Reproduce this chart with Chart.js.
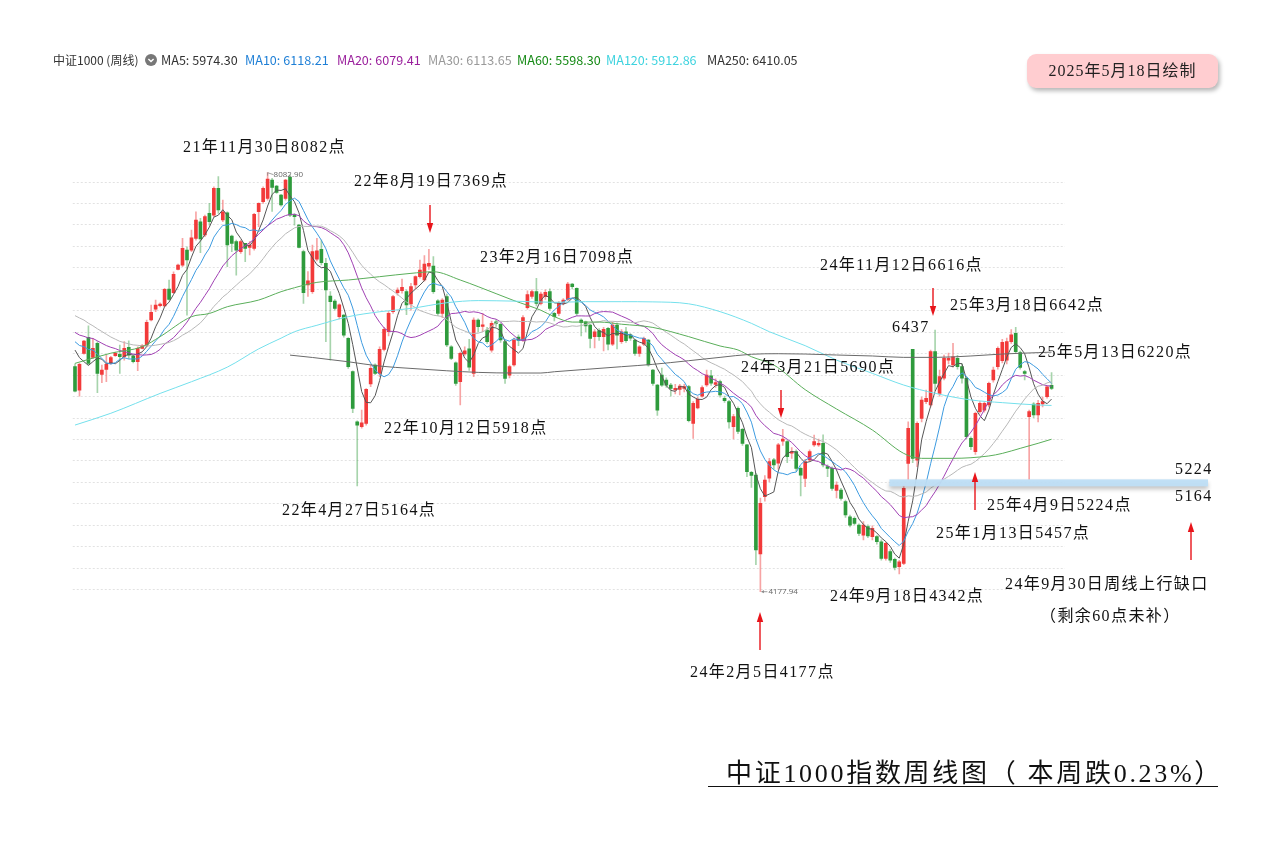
<!DOCTYPE html>
<html>
<head>
<meta charset="utf-8">
<script src="https://cdn.jsdelivr.net/npm/chart.js@4.4.1/dist/chart.umd.min.js"></script>
<style>
  html, body { margin: 0; padding: 0; background: #ffffff; width: 1273px; height: 844px; overflow: hidden; }
  #wrap { position: absolute; left: 0; top: 0; width: 1273px; height: 844px; }
  .lg { position: absolute; top: 51px; font: 12.6px "Noto Sans CJK SC", "Open Sans", sans-serif; white-space: nowrap; line-height: 18px; }
  #icon { position: absolute; left: 145px; top: 54px; width: 12px; height: 12px; }
  #stamp { position: absolute; left: 1027px; top: 54px; width: 191px; height: 34px; background: #ffcdd0; border-radius: 9px;
           box-shadow: 2px 3px 4px rgba(0,0,0,0.28); font: 16px "Liberation Serif", "Noto Sans CJK SC", serif; color: #222;
           text-align: center; line-height: 34px; letter-spacing: 1px; }
  #title { position: absolute; left: 726px; top: 752px; font: 26px "Liberation Serif", "Noto Sans CJK SC", serif; color: #111;
           letter-spacing: 2.7px; white-space: nowrap; }
  #uline { position: absolute; left: 708px; top: 786px; width: 510px; height: 0; border-top: 1.6px solid #111; }
</style>
</head>
<body>
<div id="wrap"><canvas id="c"></canvas></div>
<div class="lg" style="left:53px;color:#333;font-size:12px">中证1000 (周线)</div>
<svg id="icon" viewBox="0 0 12 12"><circle cx="6" cy="6" r="6" fill="#777"/><path d="M3.4 4.9 L6 7.5 L8.6 4.9" stroke="#fff" stroke-width="1.4" fill="none"/></svg>
<div id="legendRow"></div>
<div id="stamp">2025年5月18日绘制</div>
<div id="title">中证1000指数周线图（ 本周跌0.23%）</div>
<div id="uline"></div>
<script>
// ---------------- DATA (weekly candles, week index 0 = first visible week, Feb 2021) ----------------
const openP = [
  6274,6056,6398,6547,6361,6491,6202,6249,6305,6376,
  6389,6367,6454,6373,6320,6445,6476,6709,6810,6843,
  6840,6998,6963,7181,7221,7361,7361,7470,7625,7501,
  7703,7687,7936,7641,7709,7492,7439,7346,7423,7385,
  7377,7718,7812,7843,8014,7958,7874,7843,8038,7690,
  7594,7346,7035,6973,7275,7368,7237,6933,6886,6740,
  6756,6538,6228,5761,5715,5746,6113,6290,6212,6436,
  6600,6787,6964,6983,6973,6858,7035,7113,7082,7212,
  7212,6889,6771,6927,6460,6311,6134,6392,6440,6212,
  6709,6650,6616,6429,6693,6670,6507,6196,6290,6550,
  6523,6825,6930,6973,6864,6926,6973,6771,6771,6864,
  6902,7045,7004,6709,6693,6662,6554,6610,6554,6631,
  6485,6662,6507,6600,6570,6523,6398,6485,6523,6243,
  6103,6196,6150,6103,6057,6063,6072,6088,5746,5890,
  6000,6104,6190,6110,6135,5980,5950,5715,5886,5690,
  5545,5290,5265,4529,5063,5234,5405,5374,5580,5575,
  5467,5482,5327,5233,5405,5544,5544,5560,5342,5327,
  5120,5124,5016,4876,4861,4798,4705,4783,4690,4690,
  4643,4488,4550,4478,4410,4441,5373,6436,5404,5793,
  5948,5917,6414,6026,6166,6336,6290,6352,6274,6166,
  5606,5482,5855,5870,5917,6150,6274,6330,6336,6507,
  6585,6405,6228,5808,5926,5824,5926,5995,6100
];
const highP = [
  6300,6305,6520,6656,6538,6507,6289,6382,6370,6410,
  6476,6507,6515,6380,6460,6480,6709,6848,6895,6870,
  7004,7082,7159,7230,7470,7392,7548,7718,7656,7687,
  7796,7951,8045,7827,7718,7501,7454,7454,7423,7439,
  7703,7802,7951,8082,8030,7965,7880,8020,8060,7700,
  7600,7361,7160,7408,7470,7455,7284,6973,6900,6860,
  6760,6545,6235,5770,5870,6070,6290,6300,6460,6640,
  6790,6940,7010,7090,6990,7050,7120,7268,7310,7369,
  7300,6900,6910,6950,6470,6320,6410,6460,6530,6730,
  6720,6771,6640,6700,6710,6680,6520,6290,6540,6570,
  6750,6980,6990,7098,6970,6990,7000,6780,6880,6910,
  7060,7050,7010,6720,6700,6670,6620,6630,6640,6640,
  6690,6680,6620,6640,6580,6530,6470,6550,6530,6250,
  6110,6260,6170,6120,6110,6110,6110,6100,5950,5990,
  6095,6243,6240,6160,6150,6000,5960,5830,5900,5700,
  5550,5300,5280,5050,5260,5420,5420,5560,5690,5590,
  5520,5500,5340,5410,5500,5637,5600,5640,5360,5340,
  5200,5140,5030,4890,4875,4810,4830,4800,4790,4700,
  4660,4640,4570,4490,4470,5164,5760,6437,5760,5990,
  6057,6430,6616,6243,6383,6400,6492,6380,6300,6180,
  5620,5850,5950,5950,6130,6270,6460,6530,6540,6620,
  6642,6420,6240,5870,5940,5960,5990,6090,6220
];
const lowP = [
  6040,6000,6390,6290,6350,6031,6125,6134,6300,6370,
  6212,6336,6350,6310,6236,6440,6460,6700,6786,6830,
  6833,6895,6957,7175,7206,6755,7346,7454,7336,7485,
  7594,7672,7703,7625,7206,7346,7128,7330,7252,7315,
  7361,7579,7796,7827,7720,7890,7770,7827,7672,7594,
  7380,6864,6930,6958,7260,7222,6507,6336,6800,6720,
  6550,6258,5845,5164,5700,5730,6088,6200,6180,6420,
  6560,6770,6940,6960,6760,6800,7000,7100,7070,7180,
  6958,6750,6730,6460,6340,6100,5918,6380,6240,6180,
  6600,6600,6490,6410,6650,6500,6119,6170,6280,6470,
  6510,6810,6910,6840,6850,6900,6800,6700,6750,6850,
  6890,7000,6750,6560,6600,6450,6450,6520,6420,6430,
  6470,6440,6490,6500,6520,6380,6370,6470,6280,6100,
  5820,6090,6080,6000,6020,6010,6040,5760,5606,5880,
  5990,6090,6100,6080,5990,5940,5700,5600,5650,5540,
  5250,5150,4430,4177,5020,5200,5320,5320,5540,5380,
  5420,5300,5070,5155,5390,5530,5530,5340,5250,5120,
  5050,5030,4870,4780,4800,4700,4659,4680,4660,4620,
  4470,4470,4450,4380,4342,4430,5224,5380,5342,5760,
  5930,5900,6050,6000,6150,6300,6270,6250,6120,5600,
  5500,5457,5840,5850,5900,6130,6250,6310,6300,6490,
  6400,6250,6150,5224,5800,5760,5900,5980,6060
];
const closeP = [
  6047,6296,6513,6305,6445,6212,6243,6296,6358,6398,
  6367,6445,6382,6320,6445,6470,6687,6780,6848,6858,
  6995,6901,7134,7221,7377,7268,7476,7641,7464,7672,
  7625,7936,7734,7718,7408,7423,7361,7439,7377,7408,
  7694,7796,7936,8023,7945,7899,7781,8014,7687,7672,
  7386,6963,7075,7346,7355,7244,6989,6880,6818,6850,
  6569,6274,5886,5730,5752,6063,6259,6212,6436,6622,
  6771,6927,6989,7014,6849,7020,7113,7175,7231,7237,
  6973,6771,6896,6476,6352,6119,6398,6423,6270,6709,
  6647,6665,6507,6678,6678,6523,6165,6274,6523,6520,
  6731,6945,6975,6864,6951,6967,6818,6740,6864,6895,
  7045,7020,6771,6684,6653,6538,6600,6554,6622,6485,
  6662,6569,6600,6516,6540,6398,6460,6538,6290,6119,
  5870,6103,6103,6072,6072,6094,6088,5771,5932,5970,
  6080,6197,6120,6125,6011,5958,5760,5810,5670,5560,
  5296,5260,4566,5001,5218,5389,5358,5545,5600,5435,
  5482,5327,5264,5389,5482,5575,5560,5358,5327,5140,
  5171,5047,4892,4798,4814,4720,4798,4696,4767,4643,
  4488,4628,4472,4404,4456,5140,5699,5420,5746,5964,
  5979,6414,6119,6181,6352,6352,6367,6274,6166,5622,
  5529,5839,5932,5932,6119,6243,6445,6500,6507,6570,
  6414,6268,6212,5855,5824,5932,5948,6086,6072
];
// estimated closes of the 29 weeks before the visible window (only used to start the short moving averages)
const warmupCloses = [
  6950,7100,7200,7150,7050,7000,7080,7120,7000,6970,
  6800,6750,6600,6550,6650,6700,6720,6680,6640,6720,
  6650,6620,6560,6500,6595,6650,6700,6480,6268
];
// long moving averages at sample weeks
const ma60Weeks  = [0,8,15,19,26,30,34,41,46,49,54,61,68,75,80,86,90,98,104,107,111,117,122,129,137,144,148,151,156,163,170,178,185,189,196,204,207,211,215,218];
const ma60Vals   = [6305,6400,6460,6554,6740,6770,6833,6895,6973,7010,7060,7082,7113,7144,7159,7082,7020,6890,6800,6740,6690,6690,6670,6640,6554,6467,6430,6367,6290,6060,5880,5684,5466,5420,5420,5442,5466,5513,5560,5598];
const ma120Weeks = [0,8,19,26,34,41,46,49,54,61,68,75,83,90,98,107,114,122,129,137,144,151,155,163,170,178,185,192,200,207,215,218];
const ma120Vals  = [5730,5840,6025,6134,6270,6440,6540,6600,6660,6740,6786,6817,6870,6890,6885,6874,6880,6880,6878,6860,6787,6678,6600,6470,6336,6212,6103,6026,5964,5939,5917,5913];
const ma250Weeks = [48,53,61,68,75,83,90,98,104,107,114,122,129,137,144,151,157,163,170,178,185,192,200,207,215,218];
const ma250Vals  = [6382,6360,6320,6280,6258,6236,6221,6215,6215,6227,6249,6274,6296,6330,6361,6390,6395,6392,6383,6374,6361,6361,6374,6392,6405,6410];
// legend texts
const legendNames  = ['MA5','MA10','MA20','MA30','MA60','MA120','MA250'];
const legendValues = ['5974.30','6118.21','6079.41','6113.65','5598.30','5912.86','6410.05'];
const yGridTicks = [4200,4400,4600,4800,5000,5200,5400,5600,5800,6000,6200,6400,6600,6800,7000,7200,7400,7600,7800,8000];

// ---------------- STYLE ----------------
const UP = '#f23a3a', DOWN = '#2e9b3c', UP_WICK = 'rgba(240,90,90,0.55)', DOWN_WICK = 'rgba(60,160,70,0.45)';
const maColors = { MA5:'#555555', MA10:'#3d9be0', MA20:'#a040b3', MA30:'#b8b8b8', MA60:'#5aae5a', MA120:'#74e0ec', MA250:'#6a6a6a' };
const legendColors = ['#333333','#1e7fd6','#9a1f9c','#9a9a9a','#168a16','#3ed3df','#333333'];

// legend row
const legendLeft = [161,245,337,428,517,606,707];
const row = document.getElementById('legendRow');
legendNames.forEach((n,k)=>{
  const d = document.createElement('div');
  d.className = 'lg';
  d.style.left = legendLeft[k] + 'px';
  d.style.color = legendColors[k];
  d.textContent = n + ': ' + legendValues[k];
  row.appendChild(d);
});

// moving averages from the closes
function sma(n){
  const all = warmupCloses.concat(closeP), off = warmupCloses.length;
  return closeP.map((_, i) => {
    const end = i + off, start = Math.max(0, end - n + 1);
    let s = 0; for (let k = start; k <= end; k++) s += all[k];
    return { x: i, y: s / (end - start + 1) };
  });
}
const pts = (w, v) => w.map((x, k) => ({ x: x, y: v[k] }));

const bodies = closeP.map((c, i) => ({ x: i, y: [openP[i], c] }));
const wicks  = closeP.map((c, i) => ({ x: i, y: [lowP[i], highP[i]] }));
const isUp   = closeP.map((c, i) => c >= openP[i]);

function lineDs(label, data, smooth){
  return { type:'line', label, data, borderColor: maColors[label], borderWidth: 1, pointRadius: 0,
           fill: false, spanGaps: true, tension: smooth ? 0.4 : 0, cubicInterpolationMode: smooth ? 'monotone' : 'default', order: 1 };
}

// ---------------- ANNOTATION PLUGIN ----------------
const annoFont = '16px "Liberation Serif", "Noto Sans CJK SC", serif';
const texts = [
  ['21年11月30日8082点', 183, 148], ['22年8月19日7369点', 354, 182], ['23年2月16日7098点', 480, 258],
  ['24年11月12日6616点', 820, 266], ['25年3月18日6642点', 950, 306], ['6437', 892, 328],
  ['25年5月13日6220点', 1038, 353], ['24年3月21日5690点', 741, 368], ['22年10月12日5918点', 384, 429],
  ['5224', 1175, 470], ['5164', 1175, 497], ['25年4月9日5224点', 987, 506], ['22年4月27日5164点', 282, 511],
  ['25年1月13日5457点', 936, 534], ['24年9月30日周线上行缺口', 1005, 585], ['24年9月18日4342点', 830, 597],
  ['（剩余60点未补）', 1040, 617], ['24年2月5日4177点', 690, 673]
];
// arrows: x, tail y, head y
const arrows = [[430,205,233],[933,288,316],[781,390,418],[975,510,472],[760,650,612],[1191,560,522]];

const gridPlugin = {
  id: 'grid',
  beforeDatasetsDraw(chart){
    const {ctx, chartArea: a, scales: {y}} = chart;
    ctx.save();
    ctx.strokeStyle = '#e2e2e2'; ctx.lineWidth = 1; ctx.setLineDash([2,2]);
    yGridTicks.forEach(v => {
      const py = Math.round(y.getPixelForValue(v)) + 0.5;
      ctx.beginPath(); ctx.moveTo(a.left, py); ctx.lineTo(a.right, py); ctx.stroke();
    });
    ctx.restore();
  }
};

const annoPlugin = {
  id: 'anno',
  afterDatasetsDraw(chart){
    const {ctx, scales: {x, y}} = chart;
    ctx.save();
    // gap band 5164-5224
    const yTop = y.getPixelForValue(5224), yBot = y.getPixelForValue(5164);
    ctx.shadowColor = 'rgba(0,0,0,0.25)'; ctx.shadowBlur = 4; ctx.shadowOffsetY = 3;
    ctx.fillStyle = 'rgba(190,222,245,0.95)';
    const bx = x.getPixelForValue(181.8);
    ctx.fillRect(bx, yTop, 1208 - bx, Math.max(7, yBot - yTop));
    ctx.restore();

    ctx.save();
    // small price labels
    ctx.font = '8px "Open Sans", sans-serif'; ctx.fillStyle = '#666'; ctx.strokeStyle = '#888'; ctx.lineWidth = 0.8;
    let hx = x.getPixelForValue(43), hy = y.getPixelForValue(8082);
    ctx.beginPath(); ctx.moveTo(hx, hy + 3); ctx.lineTo(hx, hy); ctx.lineTo(hx + 6, hy + 2); ctx.stroke();
    ctx.textBaseline = 'middle'; ctx.fillText('8082.90', hx + 6, hy + 2.5);
    let lx = x.getPixelForValue(153), ly = y.getPixelForValue(4177);
    ctx.beginPath(); ctx.moveTo(lx + 1, ly); ctx.lineTo(lx + 7, ly); ctx.stroke();
    ctx.beginPath(); ctx.moveTo(lx + 1, ly); ctx.lineTo(lx + 3.5, ly - 1.6); ctx.lineTo(lx + 3.5, ly + 1.6); ctx.closePath(); ctx.fillStyle = '#888'; ctx.fill();
    ctx.fillStyle = '#666'; ctx.fillText('4177.94', lx + 8, ly + 0.5);

    // arrows
    ctx.strokeStyle = '#e8141a'; ctx.fillStyle = '#e8141a'; ctx.lineWidth = 1.4;
    arrows.forEach(([ax, t, h]) => {
      const dir = h > t ? 1 : -1;
      ctx.beginPath(); ctx.moveTo(ax, t); ctx.lineTo(ax, h - dir * 8); ctx.stroke();
      ctx.beginPath(); ctx.moveTo(ax, h); ctx.lineTo(ax - 3.2, h - dir * 10); ctx.lineTo(ax + 3.2, h - dir * 10); ctx.closePath(); ctx.fill();
    });

    // texts
    ctx.font = annoFont; ctx.fillStyle = '#111'; ctx.textBaseline = 'middle'; ctx.textAlign = 'left';
    try { ctx.letterSpacing = '1.4px'; } catch(e) {}
    texts.forEach(([s, tx, ty]) => ctx.fillText(s, tx, ty));
    ctx.restore();
  }
};

// ---------------- CHART ----------------
new Chart(document.getElementById('c'), {
  type: 'bar',
  data: {
    datasets: [
      lineDs('MA250', pts(ma250Weeks, ma250Vals), true),
      lineDs('MA120', pts(ma120Weeks, ma120Vals), true),
      lineDs('MA60',  pts(ma60Weeks, ma60Vals), true),
      lineDs('MA30',  sma(30), false),
      lineDs('MA20',  sma(20), false),
      lineDs('MA10',  sma(10), false),
      lineDs('MA5',   sma(5),  false),
      { type:'bar', label:'wick', data: wicks, grouped: false, barThickness: 1, order: 3,
        backgroundColor: isUp.map(u => u ? UP_WICK : DOWN_WICK), borderWidth: 0 },
      { type:'bar', label:'body', data: bodies, grouped: false, barThickness: 3, minBarLength: 1, order: 2,
        backgroundColor: isUp.map(u => u ? UP : DOWN), borderWidth: 0 }
    ]
  },
  options: {
    responsive: true, maintainAspectRatio: false, animation: false, events: [],
    layout: { padding: { left: 72.76, right: 208, top: 160.04, bottom: 233.3 } },
    scales: {
      x: { type: 'linear', min: -0.5, max: 221, offset: false, display: false },
      y: { type: 'linear', min: 4000, max: 8200, display: false }
    },
    plugins: { legend: { display: false }, tooltip: { enabled: false } }
  },
  plugins: [gridPlugin, annoPlugin]
});
</script>
</body>
</html>
